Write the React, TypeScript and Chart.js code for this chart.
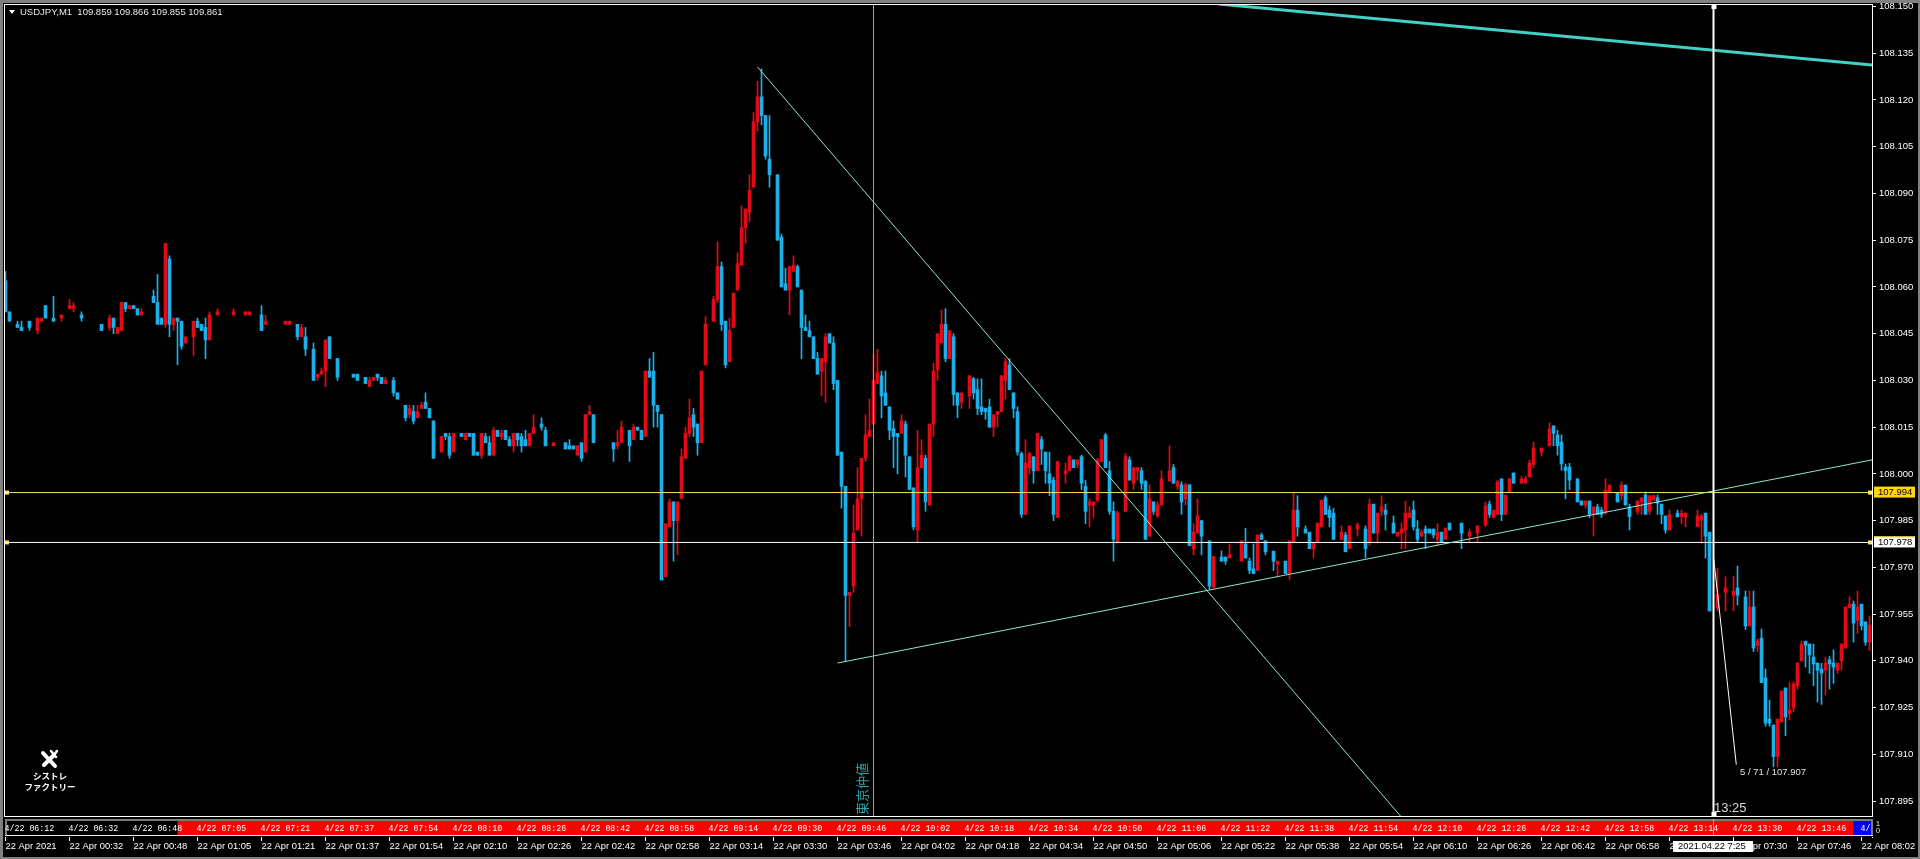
import React, { useEffect, useRef } from "react";
import { Chart, registerables } from "chart.js";

Chart.register(...registerables);

const _ = null;
const BASE_PRICE = 107.9;
// Candle values in points (0.001) above BASE_PRICE; null = nothing visible in that minute.
const opens = [
162,152,_,148,147,_,149,_,146,149,
154,_,150,_,150,_,153,153,_,151,
_,_,_,_,148,_,147,150,145,146,
155,153,154,153,151,_,_,157,155,150,
148,169,148,150,149,142,_,144,149,148,
147,143,_,151,_,_,_,151,_,_,
151,151,_,_,151,148,_,_,_,_,
148,148,_,148,144,144,_,140,131,132,
133,144,_,137,_,_,_,132,132,_,
131,128,130,132,131,129,_,130,126,_,
122,119,120,118,121,123,121,117,_,107,
113,112,107,_,113,111,113,113,107,106,
112,110,106,114,112,114,111,109,113,112,
111,109,113,_,116,114,_,109,_,_,
110,109,109,106,110,107,119,119,_,_,
_,_,110,109,110,_,114,111,115,114,
112,133,133,122,119,67,83,91,85,92,
105,113,119,116,110,135,_,149,156,166.5,
149,136,147,159,167,179,184,192,213,221,
215,201,_,196,176,161,159,165,166.5,159,
147,146,144,137,133,136,145,142,130,107,
96,61,64,82,92,105,112,116,129,131.5,
126,121.5,114.5,113,113,116,105.5,95.5,82,102,
105,90,116,133.5,142,148,137,144,126,123,
_,125,130.5,127,121.5,121,121.5,115,119,120,
130,135,126,120,106.5,87,102,105.5,101,111,
107,100,98,86,_,100,101,104.5,103,105.5,
96,90,90,91.5,104,112.5,101,88,78,_,
88,104.5,97,101,101,97.5,80,91,86.5,90,
_,97.7,102,96,96.5,92,96.5,76,81,85,
_,78.5,63.5,_,73.3,73.3,73,_,_,72,
77.5,72,69.5,69,80.4,78.5,_,75.2,71,_,
72,68,78,88.4,_,82.3,81.3,76,78,83,
92.3,88.4,87.4,_,79,80.4,76,_,82.3,_,
82.3,78,90.3,81,88,88.4,_,84.2,80,81,
82,86,88.4,82.3,80,82.3,82.3,82.3,79,81.3,
79,84.2,_,_,84.2,_,80,_,81,_,
83.6,90.3,86,87,98.4,87,94.2,100.3,_,97,
97,99,103,_,107,_,109,115.4,112.5,110.2,
102.2,102.2,_,98.4,91.3,90,91.3,87,89.4,88.4,
87.4,94.2,_,93.8,93,96.4,89.4,_,88,91,
93.2,88,91.6,92.3,90.3,86.5,82,_,87.4,86.2,
86.2,_,_,83,85.2,87.4,81.3,_,57,_,
62,_,61,63.4,_,60.5,51.2,57.3,45,47.3,
34.5,21.3,19.4,9.3,20.4,31.3,23,24.9,32,40,
46.3,45.4,41.2,39.3,37.4,37,40.3,39.3,37,40,
44.1,57,58.2,53,58.2,52.5,46,
];
const closes = [
152,149,_,147,146,_,147,_,150,150,
150,_,149,_,151,_,154,154,_,150,
_,_,_,_,146,_,150,147,147,155,
153,154,153,151,152,_,_,155,148,148,
174,148,150,149,141,144,_,149,147,146,
143,151,_,152,_,_,_,152,_,_,
152,152,_,_,146,149,_,_,_,_,
149,149,_,144,147,140,_,130,132,133,
143,137,_,131,_,_,_,131,130,_,
129,130,131,131,129,130,_,126,124,_,
118,121,117,120,122,121,118,105,_,112,
112,106,113,_,112,113,112,106,106,113,
110,106,114,112,113,111,109,113,111,109,
109,113,115,_,115,109,_,110,_,_,
108,108,108,109,105,119,120,110,_,_,
_,_,108,110,115,_,109,115,114,111,
133,131,122,120,66,84,91,85,91,105.5,
113,118,115,110,133,148,_,156,166.5,148,
135,146,158,167.5,179,185,191,213,221,215,
202,196,_,175,160,159,166.5,167,160,147,
146,144,137,132,137,144,142,129,106,96,
61,62,81,92,105,112.5,114,130,132.5,125,
122,114,112,112,117,106,95,83,102,106,
91,116,133,145,148,137,146,125.5,122,126,
_,131.5,126,121,120,120,115,119,120,131.5,
136,127,121,107,87,103.5,106.5,101,113,108,
101,97,87,104,_,101,105.5,102,104.5,97,
88,91,91,104.5,111,102,88,79,87.5,_,
105.5,98,102,102,97,79,92,88,90,98.4,
_,101,97,97.5,91,96.5,77,81.3,86.5,80,
_,64,73.5,_,72,72,74,_,_,78.5,
73,69,68,80.4,79,75,_,72,72,_,
68,78.5,88.4,83,_,81,76,78,84.2,91.6,
87,86,79,_,81.3,75,83.3,_,83.6,_,
76,90.3,81,87.4,89.4,87,_,81,81.3,82.3,
87.4,87.4,83,79,81.3,81,81,80.4,81.3,78,
82.6,82,_,_,81,_,81.3,_,83.3,_,
89.7,87,88.4,97.4,87,93.2,98.4,97,_,98.4,
98.4,103.5,108.3,_,108.3,_,114.4,113,109,103.2,
101,98,_,91,90,91.3,87,89.4,87,87,
94.8,96.4,_,91,96.4,90,86.3,_,91.3,92.3,
87,93,93,90.6,87,82,87,_,86.2,87.4,
87.4,_,_,86.5,86.5,80,56,_,61.4,_,
63.4,_,62.4,61.1,_,51.2,57.3,44.1,46.4,33,
20,20,9.3,21.3,30.3,22,24.2,32.6,39.3,45.4,
45,41.9,39,37,36.1,39.3,39,38,39.3,45.4,
57.3,58.2,52.1,57.3,51.2,46,51.5,
];
const highs = [
165,152,_,149,149,_,149,_,150,150,
154,_,157,_,151,_,156,155,_,152,
_,_,_,_,148,_,151,150,147,155,
155,154,154,153,153,_,_,159,164,150,
174,170,150,150,149,144,_,149,150,148,
150,152,_,153,_,_,_,153,_,_,
152,152,_,_,154,151,_,_,_,_,
149,149,_,148,148,147,_,142,132,134,
143,144,_,137,_,_,_,132,132,_,
131,131,131,132,131,131,_,131,126,_,
122,122,122,122,123,126,121,117,_,112,
113,113,113,_,113,113,113,113,107,113,
113,112,115,114,114,114,112,113,113,113,
114,113,119,_,118,115,_,110,_,_,
110,111,109,109,110,119,122,119,_,_,
_,_,110,114,117,_,114,116,115,114,
133,137,139,122,119,84,92,91,91,108,
115,124,121,116,133,150.5,_,157,174.5,168,
149,150,158,171,186,185,196,216,226,230,
215,215,_,196,177,166,166.5,170,167,159,
151,149,144,139,137,145,145,144,130,107,
96,62,90,102,105,119,124,138.5,140,133,
133,121.5,117,113,119,117,105.5,95.5,114,111,
106,116,135.5,145,152.6,153,146,145,126,126,
_,131.5,131,130.5,130.5,121,124,119,120,131.5,
137,137,126,121.5,107,111,107,105.5,113,112,
107,107,99,104,_,103.5,106,104.5,104.5,106,
98,92,91,105,111,113,104,91,88,_,
106.5,105.5,102,102,102,98,96.5,91,91,101,
_,109,103,98,97.5,97,96.5,84,92,85,
_,78.5,73.5,_,75.3,73.3,77.5,_,_,78.5,
82.5,73,77.5,80.4,81,78.5,_,75.2,72,_,
72,78.5,94,93,_,83.3,81.3,78,84.2,91.6,
93,89.7,89,_,83.3,81.3,83.3,_,84.3,_,
83.3,92,90.3,87.4,93,90.3,_,86.5,81.3,84.3,
91.3,89.4,91.3,85,82,83.3,82.3,82.3,84,81.3,
82.6,84.2,_,_,84.2,_,82.3,_,83.3,_,
91,91.3,88.4,98,98.4,93.2,98.4,100.3,_,99.3,
99.3,104.4,110.2,_,108.3,_,116.4,115.4,114,112.5,
103.2,103.4,_,98.4,91.3,91.3,91.3,89.4,90.3,89.3,
98.4,96.4,_,93.8,97.5,96.4,90.3,_,91.3,92.3,
94.2,93,93.2,93.2,90.3,86.5,88.4,_,88.4,88.4,
87.4,_,_,88.4,87,87.4,81.3,_,69.7,_,
67,_,67.2,70.4,_,62.4,62.4,62.4,47,50.2,
37.4,27.4,19.4,21.3,30.3,31.3,33.2,33.3,39.3,46.3,
46.3,45.4,45.4,39.3,39.2,41.2,41.4,43.5,39.3,45.4,
57.3,60.6,59.2,62.4,58.2,52.5,54.4,
];
const lows = [
152,149,_,147,146,_,146,_,145,149,
150,_,149,_,149,_,153,152,_,149,
_,_,_,_,146,_,146,145,145,146,
152,153,153,151,151,_,_,155,148,148,
147,144,146,135,140,142,_,138,147,146,
137,143,_,151,_,_,_,151,_,_,
151,151,_,_,146,148,_,_,_,_,
148,148,_,143,144,138,_,130,130,132,
128,137,_,130,_,_,_,131,130,_,
129,128,130,130,129,129,_,125,124,_,
117,118,116,118,121,121,118,105,_,107,
111,105,107,_,112,111,112,106,106,105,
110,106,106,112,111,111,109,107,109,107,
109,109,113,_,114,109,_,109,_,_,
108,108,108,106,104,107,119,110,_,_,
_,_,104,108,110,_,104,111,114,111,
112,131,115,115,66,67,83,72,74,92,
105,112,112,106,110,135,_,149,155,146,
134,136,147,159,167,174,181,192,210,212,
201,192,_,175,160,159,151,165,160,137,
146,144,137,132,125,123,142,127,106,89,
40,51,62,82,80,104,112,116,129,118,
122,111,102,100,113,99,95,82,78,102,
88,90,112,130,142,136,137,122,118,121,
_,121,124,119,119,117.5,115,112,115,120,
124,127,118,106,86,87,100,97,101,103,
97,93,85,86,_,97,101,102,102,95,
84,83,86,91,104,102,87,72,78,_,
88,98,95,98,95,79,80,87,86,90,
_,97.7,97,95,87,90,77,74,81,74,
_,63,63.5,_,72,71,73,_,_,72,
73,68,68,69,79,74,_,69,67,_,
68,66,78,80,_,81,76,73,78,83,
87,83,79,_,79,75,76,_,80,_,
73,77,81,78,86.5,82,_,81,80,76,
76,86,82,78,80,76,81,79.4,77,78,
79,82,_,_,76,_,78,_,78,_,
83,86,86,87,85,87,94.2,97,_,97,
97,99,102,_,105.7,_,109,109,106,101.2,
92,95,_,91,90,89,86,80,87,86,
87,94.2,_,91,91.6,90,82,_,87,87,
87,87,91.6,87,84,81,82,_,86.2,84,
83,_,_,83,77.7,73,56,_,56,_,
56,_,56,57.9,_,50,51.2,43,43,33,
19,19,6,6,20.4,16,21,23.7,30.9,40,
38,36,32,26.8,26,29,30.9,32.8,36,37,
44.1,57,46,48.8,49.9,45,43.3,
];

const axisLabels = ["22 Apr 2021","22 Apr 00:32","22 Apr 00:48","22 Apr 01:05","22 Apr 01:21","22 Apr 01:37","22 Apr 01:54","22 Apr 02:10","22 Apr 02:26","22 Apr 02:42","22 Apr 02:58","22 Apr 03:14","22 Apr 03:30","22 Apr 03:46","22 Apr 04:02","22 Apr 04:18","22 Apr 04:34","22 Apr 04:50","22 Apr 05:06","22 Apr 05:22","22 Apr 05:38","22 Apr 05:54","22 Apr 06:10","22 Apr 06:26","22 Apr 06:42","22 Apr 06:58","22 Apr 07:14","22 Apr 07:30","22 Apr 07:46","22 Apr 08:02"];
const stripLabels = ["4/22 06:12","4/22 06:32","4/22 06:48","4/22 07:05","4/22 07:21","4/22 07:37","4/22 07:54","4/22 08:10","4/22 08:26","4/22 08:42","4/22 08:58","4/22 09:14","4/22 09:30","4/22 09:46","4/22 10:02","4/22 10:18","4/22 10:34","4/22 10:50","4/22 11:06","4/22 11:22","4/22 11:38","4/22 11:54","4/22 12:10","4/22 12:26","4/22 12:42","4/22 12:58","4/22 13:14","4/22 13:30","4/22 13:46","4/"];
const TICK_EVERY = 16;
const X_MIN = -0.375;
const X_MAX = 466.625;
const Y_MIN = 107.88347;
const Y_MAX = 108.1508;
const PLOT_FLOOR = 107.8902;

const yellowLevel = 107.994;
const whiteLevel = 107.978;
const cursorX = 427;
const verticalX = 217;
const fallingLine = [{ x: 188, y: 108.1306 }, { x: 348.75, y: PLOT_FLOOR }];
const risingLine = [{ x: 208, y: 107.9393 }, { x: X_MAX, y: 108.0045 }];
const upperLine = [{ x: 303.25, y: Y_MAX }, { x: X_MAX, y: 108.1312 }];
const measureLine = [{ x: 427, y: 107.9734 }, { x: 432.7, y: 107.9067 }];
const stripBreaks = [43, 462];

const UP = "#e30a17";
const DOWN = "#1cb0ea";
const SANS = '"Liberation Sans", sans-serif';

const px = (v: number) => +(BASE_PRICE + v / 1000).toFixed(4);
const bars = (up: boolean, a: (number | null)[], b: (number | null)[]) => {
  const out: { x: number; y: number[] }[] = [];
  opens.forEach((o, i) => {
    const c = closes[i];
    if (o === null || c === null) return;
    if (c >= o !== up) return;
    out.push({ x: i, y: [px(a[i] as number), px(b[i] as number)] });
  });
  return out;
};
const barSet = (label: string, data: any, color: string, width: number, order: number) => ({
  type: "bar" as const, label, data, backgroundColor: color, borderWidth: 0,
  grouped: false, barPercentage: 1, categoryPercentage: 1, maxBarThickness: width, order,
});
const lineSet = (label: string, data: any, color: string, width: number, order = 0) => ({
  type: "line" as const, label, data, borderColor: color, backgroundColor: color,
  borderWidth: width, pointRadius: 0, tension: 0, fill: false, order,
});

const overlay = {
  id: "terminalFrame",
  beforeDraw(chart: any) {
    const g = chart.ctx;
    g.save();
    g.fillStyle = "#000";
    g.fillRect(0, 0, 1920, 859);
    g.restore();
  },
  afterDraw(chart: any) {
    const g = chart.ctx;
    const X = chart.scales.x;
    const Y = chart.scales.y;
    const { left, right, top } = chart.chartArea;
    g.save();
    // window frame
    g.fillStyle = "#808080";
    g.fillRect(0, 0, 1920, 3);
    g.fillRect(0, 0, 3, 859);
    g.fillRect(0, 857, 1920, 2);
    g.fillRect(1918, 0, 2, 859);
    g.fillStyle = "#fff";
    g.fillRect(left, top, right - left, 1);
    g.fillRect(left, top, 1, 813);
    // lower band: below the plot
    g.fillStyle = "#000";
    g.fillRect(left, 817, right - left + 1, 20);
    g.fillStyle = "#fff";
    g.fillRect(left, 816, right - left + 1, 1);
    // date strip
    const x0 = X.getPixelForValue(stripBreaks[0]);
    const x1 = X.getPixelForValue(stripBreaks[1]);
    g.fillStyle = "#7a7a7a";
    g.fillRect(5, 819, 1868, 2);
    g.fillRect(5, 819, 2, 17);
    g.fillRect(1871, 819, 2, 17);
    g.fillStyle = "#000";
    g.fillRect(7, 821, x0 - 7, 14);
    g.fillStyle = "#ff0000";
    g.fillRect(x0, 821, x1 - x0, 14);
    g.fillStyle = "#0000ff";
    g.fillRect(x1, 821, 1871 - x1, 14);
    g.fillStyle = "#e8e8e8";
    g.fillRect(5, 835, 1868, 1);
    g.save();
    g.beginPath();
    g.rect(5, 821, 1866, 14);
    g.clip();
    g.font = '8.3px "Liberation Mono", monospace';
    g.fillStyle = "#fff";
    g.textBaseline = "middle";
    g.textAlign = "left";
    stripLabels.forEach((t, i) => {
      g.fillText(t, X.getPixelForValue(i * TICK_EVERY) - 1, 828.5);
    });
    g.restore();
    // cursor handles and crossing in strip
    const cx = X.getPixelForValue(cursorX);
    g.fillStyle = "#fff";
    g.fillRect(cx - 2, 4, 5, 5);
    g.fillRect(cx - 2, 812, 5, 5);
    g.fillStyle = "rgba(255,255,255,0.55)";
    g.fillRect(cx - 0.5, 819, 1, 16);
    // line handles
    const yy = Y.getPixelForValue(yellowLevel);
    const wy = Y.getPixelForValue(whiteLevel);
    g.fillStyle = "#ffe680";
    [yy, wy].forEach((v: number) => {
      g.fillRect(5, v - 2, 4, 4);
      g.fillRect(1868, v - 2, 4, 4);
    });
    // price tags
    g.font = "9.5px " + SANS;
    g.textBaseline = "middle";
    g.textAlign = "left";
    g.fillStyle = "#ffd60a";
    g.fillRect(1874, yy - 6, 41, 11);
    g.fillStyle = "#000";
    g.fillText(yellowLevel.toFixed(3), 1878, yy);
    g.fillStyle = "#fff";
    g.fillRect(1874, wy - 6, 41, 11);
    g.fillStyle = "#ffd60a";
    g.fillRect(1874, wy - 6, 41, 1);
    g.fillStyle = "#000";
    g.fillText(whiteLevel.toFixed(3), 1878, wy);
    // legend row
    g.fillStyle = "#fff";
    g.beginPath();
    g.moveTo(9, 10);
    g.lineTo(15, 10);
    g.lineTo(12, 14);
    g.closePath();
    g.fill();
    g.fillStyle = "#e8e8e8";
    g.fillText("USDJPY,M1  109.859 109.866 109.855 109.861", 20, 12.5);
    // annotations
    g.fillStyle = "#e0e0e0";
    g.fillText("5 / 71 / 107.907", 1740, 772.5);
    g.font = "13px " + SANS;
    g.fillStyle = "#d8d8d8";
    g.fillText("13:25", 1714, 808);
    // cursor time tag
    g.fillStyle = "#fff";
    g.fillRect(1673, 841, 80, 11);
    g.fillStyle = "#000";
    g.font = "9.4px " + SANS;
    g.fillText("2021.04.22 7:25", 1678, 846.5);
    // small axis mark
    g.fillStyle = "#e0e0e0";
    g.font = "8px " + SANS;
    g.textAlign = "center";
    g.fillText("1", 1878, 824);
    g.fillText("0", 1878, 831);
    // vertical note
    g.save();
    g.translate(862, 815);
    g.rotate(-Math.PI / 2);
    g.font = '13px "Noto Sans CJK JP"';
    g.fillStyle = "#2aa5a8";
    g.textAlign = "left";
    g.textBaseline = "middle";
    g.fillText("東京仲値", 0, 0);
    g.restore();
    // logo
    g.strokeStyle = "#fff";
    g.lineCap = "round";
    g.lineWidth = 4;
    g.beginPath();
    g.moveTo(44, 765);
    g.lineTo(54, 755);
    g.moveTo(43, 753);
    g.lineTo(55, 766);
    g.stroke();
    g.lineWidth = 2.5;
    g.beginPath();
    g.moveTo(54, 755);
    g.lineTo(57, 751);
    g.moveTo(51, 751);
    g.lineTo(56, 757);
    g.stroke();
    g.fillStyle = "#fff";
    g.font = 'bold 8.5px "Noto Sans CJK JP"';
    g.textAlign = "center";
    g.fillText("シストレ", 50, 776);
    g.fillText("ファクトリー", 50, 787);
    g.restore();
  },
};

export default function App() {
  const ref = useRef<HTMLCanvasElement | null>(null);
  useEffect(() => {
    if (!ref.current) return;
    const chart = new Chart(ref.current, {
      type: "bar",
      data: {
        datasets: [
          lineSet("Cursor", [{ x: cursorX, y: Y_MAX }, { x: cursorX, y: PLOT_FLOOR }], "#ffffff", 2),
          lineSet("Measure", measureLine, "#ffffff", 1),
          lineSet("Tokyo fix", [{ x: verticalX, y: Y_MAX }, { x: verticalX, y: PLOT_FLOOR }], "#55c0b8", 1),
          lineSet("Falling", fallingLine, "#8fe6d2", 1),
          lineSet("Rising", risingLine, "#8fe6d2", 1),
          lineSet("Upper", upperLine, "#40d0c6", 3),
          lineSet("107.994", [{ x: X_MIN, y: yellowLevel }, { x: X_MAX, y: yellowLevel }], "#f5e663", 1),
          lineSet("107.978", [{ x: X_MIN, y: whiteLevel }, { x: X_MAX, y: whiteLevel }], "#ffffff", 1),
          barSet("Up wick", bars(true, lows, highs), UP, 1, 3),
          barSet("Down wick", bars(false, lows, highs), DOWN, 1, 3),
          barSet("Up body", bars(true, opens, closes), UP, 3, 2),
          barSet("Down body", bars(false, closes, opens), DOWN, 3, 2),
        ],
      } as any,
      options: {
        responsive: false,
        animation: false,
        devicePixelRatio: 1,
        layout: { padding: { left: 4, top: 4, right: 0, bottom: 0 } },
        plugins: { legend: { display: false }, tooltip: { enabled: false }, title: { display: false } },
        scales: {
          x: {
            type: "linear",
            offset: false,
            min: X_MIN,
            max: X_MAX,
            grid: { offset: false, drawOnChartArea: false, color: "#fff", tickLength: 4, tickWidth: 1 },
            border: { display: false },
            ticks: {
              includeBounds: false,
              stepSize: TICK_EVERY,
              autoSkip: false,
              maxRotation: 0,
              minRotation: 0,
              align: "start",
              padding: 0,
              color: "#fff",
              font: { family: "Liberation Sans", size: 9.4 },
              callback: (v: any) => axisLabels[Math.round(Number(v) / TICK_EVERY)] ?? "",
            },
            afterFit: (s: any) => {
              s.height = 22;
              s.paddingLeft = s.paddingRight = s.paddingTop = s.paddingBottom = 0;
            },
          },
          y: {
            position: "right",
            min: Y_MIN,
            max: Y_MAX,
            grid: { drawOnChartArea: false, color: "#fff", tickLength: 4 },
            border: { color: "#fff", width: 1 },
            ticks: {
              includeBounds: false,
              stepSize: 0.015,
              padding: 3,
              color: "#fff",
              autoSkip: false,
              font: { family: "Liberation Sans", size: 9.5 },
              callback: (v: any) => Number(v).toFixed(3),
            },
            afterFit: (s: any) => {
              s.width = 48;
              s.paddingLeft = s.paddingRight = s.paddingTop = s.paddingBottom = 0;
            },
          },
        },
      } as any,
      plugins: [overlay],
    });
    return () => chart.destroy();
  }, []);
  return (
    <div style={{ position: "absolute", left: 0, top: 0, width: 1920, height: 859, background: "#000" }}>
      <canvas ref={ref} width={1920} height={859} style={{ display: "block" }} />
    </div>
  );
}
